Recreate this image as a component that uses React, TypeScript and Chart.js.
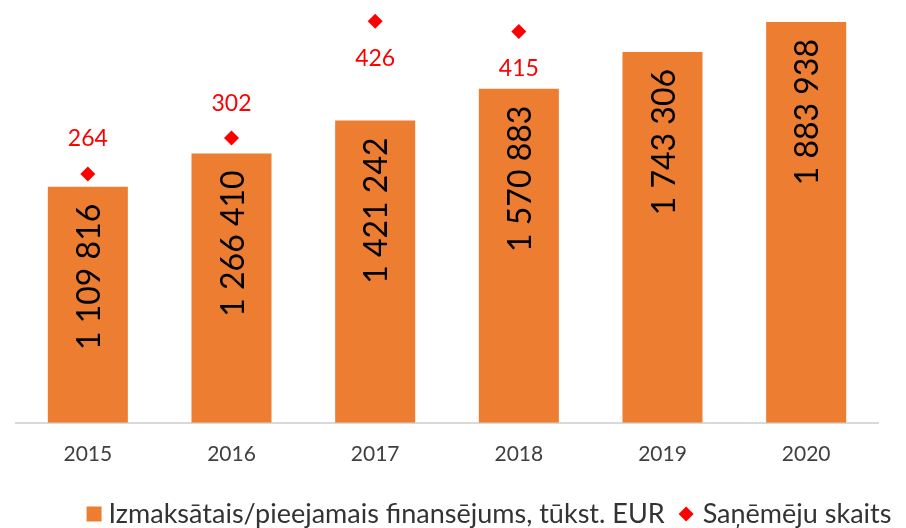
import React, { useEffect, useRef } from "react";
import { Chart, registerables } from "chart.js";

Chart.register(...registerables);

const years = ["2015", "2016", "2017", "2018", "2019", "2020"];
const funding = [1109816, 1266410, 1421242, 1570883, 1743306, 1883938];
const recipients: (number | null)[] = [264, 302, 426, 415, null, null];
const fundingLabel = "Izmaksātais/pieejamais finansējums, tūkst. EUR";
const recipientsLabel = "Saņēmēju skaits";

const FONT = "Lato, 'Open Sans', sans-serif";
const BAR_COLOR = "#ED7D31";
const POINT_COLOR = "#FF0000";

function fmt(n: number): string {
  return String(n).replace(/\B(?=(\d{3})+(?!\d))/g, " ");
}

const labelsPlugin = {
  id: "valueLabels",
  afterDatasetsDraw(chart: any) {
    const ctx = chart.ctx;
    ctx.save();
    const barMeta = chart.getDatasetMeta(0);
    ctx.font = `32px ${FONT}`;
    ctx.fillStyle = "#000000";
    ctx.textAlign = "right";
    ctx.textBaseline = "middle";
    barMeta.data.forEach((el: any, i: number) => {
      ctx.save();
      ctx.translate(el.x + 2, el.y + 17);
      ctx.rotate(-Math.PI / 2);
      ctx.fillText(fmt(funding[i]), 0, 0);
      ctx.restore();
    });
    const ptMeta = chart.getDatasetMeta(1);
    ctx.font = `23px ${FONT}`;
    ctx.fillStyle = POINT_COLOR;
    ctx.textAlign = "center";
    ctx.textBaseline = "middle";
    ptMeta.data.forEach((el: any, i: number) => {
      const v = recipients[i];
      if (v == null) return;
      let y = el.y - 35;
      if (y - 14 < chart.chartArea.top) y = el.y + 37;
      ctx.fillText(String(v), el.x, y);
    });
    ctx.restore();
  },
};

const legendPlugin = {
  id: "customLegend",
  afterDraw(chart: any) {
    const ctx = chart.ctx;
    ctx.save();
    ctx.font = `27px ${FONT}`;
    const w1 = ctx.measureText(fundingLabel).width;
    const w2 = ctx.measureText(recipientsLabel).width;
    const box = 15, g1 = 7, sp = 14, g2 = 9;
    const total = box + g1 + w1 + sp + box + g2 + w2;
    const cx = 481;
    let x = cx - total / 2;
    const y = chart.height - 14;
    ctx.fillStyle = BAR_COLOR;
    ctx.fillRect(x, y - 7.5, box, box);
    x += box + g1;
    ctx.fillStyle = "#333333";
    ctx.textBaseline = "middle";
    ctx.textAlign = "left";
    ctx.fillText(fundingLabel, x, y);
    x += w1 + sp;
    ctx.fillStyle = POINT_COLOR;
    ctx.beginPath();
    ctx.moveTo(x, y);
    ctx.lineTo(x + 7.5, y - 7.5);
    ctx.lineTo(x + 15, y);
    ctx.lineTo(x + 7.5, y + 7.5);
    ctx.closePath();
    ctx.fill();
    x += box + g2;
    ctx.fillStyle = "#333333";
    ctx.fillText(recipientsLabel, x, y);
    ctx.restore();
  },
};

export default function App() {
  const ref = useRef<HTMLCanvasElement | null>(null);
  useEffect(() => {
    if (!ref.current) return;
    const chart = new Chart(ref.current, {
      type: "bar",
      data: {
        labels: years,
        datasets: [
          {
            type: "bar",
            label: fundingLabel,
            data: funding,
            backgroundColor: BAR_COLOR,
            borderWidth: 0,
            yAxisID: "y",
            categoryPercentage: 1,
            barPercentage: 0.557,
            order: 1,
          } as any,
          {
            type: "line",
            label: recipientsLabel,
            data: recipients,
            yAxisID: "y2",
            showLine: false,
            pointStyle: "rectRot",
            pointRadius: 7.5,
            pointBackgroundColor: POINT_COLOR,
            pointBorderColor: POINT_COLOR,
            pointBorderWidth: 0,
            backgroundColor: POINT_COLOR,
            borderColor: POINT_COLOR,
            clip: false,
            order: 0,
          } as any,
        ],
      },
      options: {
        animation: false,
        responsive: true,
        maintainAspectRatio: false,
        layout: { autoPadding: false, padding: { left: 8, right: 28, top: 0, bottom: 42 } },
        plugins: {
          legend: { display: false },
          tooltip: { enabled: false },
        },
        scales: {
          x: {
            grid: { display: false, drawTicks: false },
            border: { display: true, color: "#d9d9d9", width: 2 },
            ticks: { font: { family: FONT, size: 21 }, color: "#404040", padding: 19 },
          },
          y: { display: false, min: 0, max: 1950000 },
          y2: { display: false, min: 0, max: 440, position: "right" },
        },
      },
      plugins: [labelsPlugin, legendPlugin],
    });
    return () => chart.destroy();
  }, []);
  return (
    <div style={{ width: 898, height: 520 }}>
      <canvas ref={ref} />
    </div>
  );
}
